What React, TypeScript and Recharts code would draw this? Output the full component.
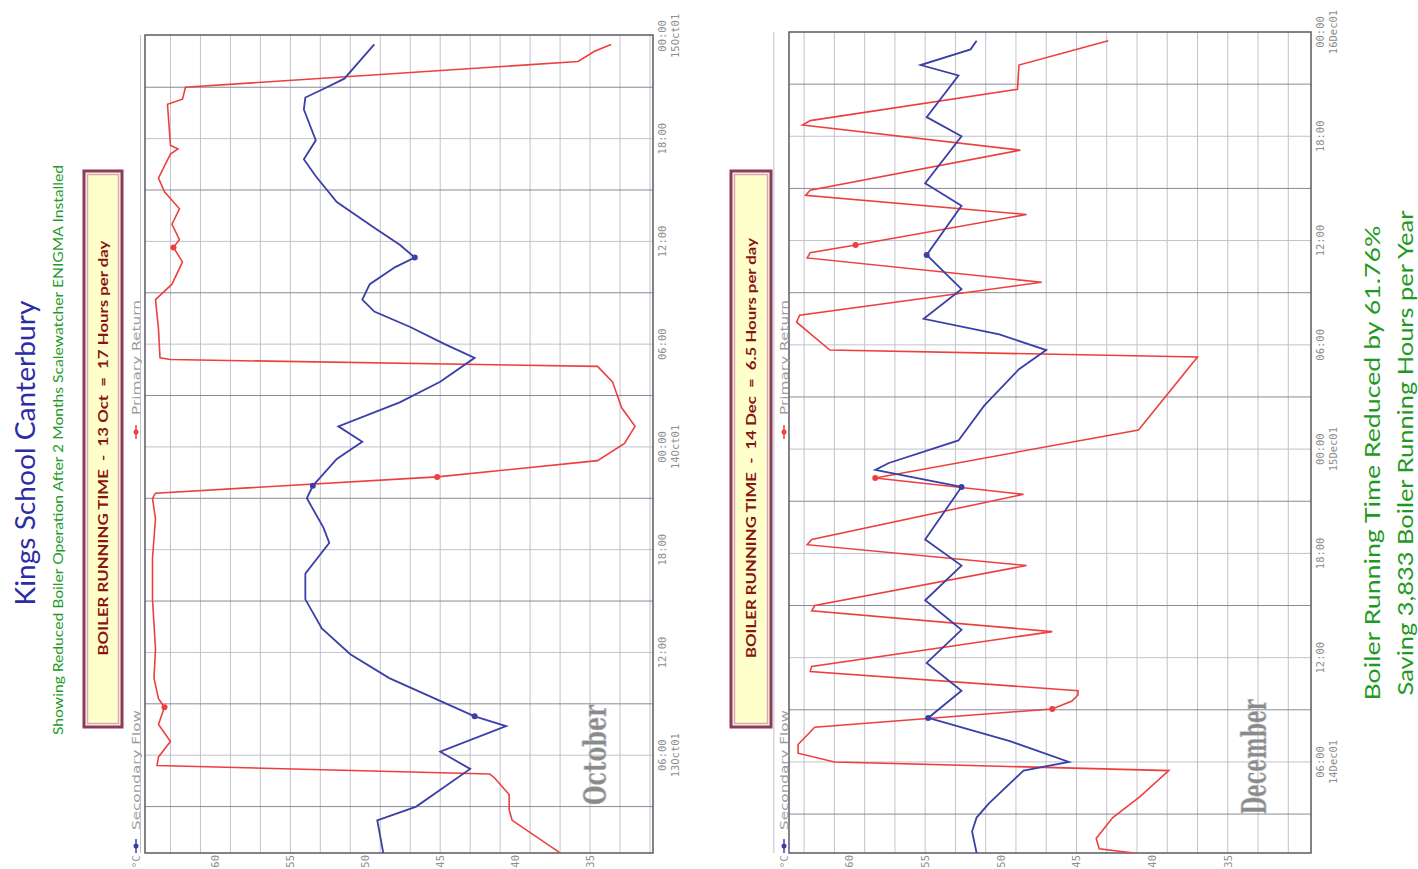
import React from "react";
import { CartesianGrid, Line, LineChart, ReferenceArea, XAxis, YAxis } from "recharts";

// hours counted from 00:00 of the first day shown
const octReturnHours = [0.3, 2.2, 2.8, 3.7, 4.7, 4.9, 5.4, 5.9, 6.8, 7.8, 8.8, 9.3, 10.5, 12.2, 15.1, 17.5, 19.8, 21.0, 21.3, 22.25, 23.2, 24.2, 25.2, 26.3, 27.8, 28.7, 29.1, 29.2, 30.9, 32.6, 33.5, 34.8, 35.65, 36.1, 37.0, 37.9, 38.9, 39.7, 41.1, 41.4, 41.6, 44.0, 44.3, 45.0, 46.5, 47.1, 47.5];
const octReturnTemp = [37.0, 40.2, 40.4, 40.4, 41.4, 41.7, 63.9, 63.8, 63.0, 63.8, 63.4, 63.8, 64.1, 64.0, 64.2, 64.2, 64.0, 64.2, 64.0, 45.2, 34.5, 32.7, 32.0, 32.9, 33.5, 34.5, 63.0, 63.7, 63.8, 64.0, 62.9, 62.2, 62.8, 62.4, 62.9, 62.4, 63.4, 63.8, 63.0, 62.5, 63.0, 63.2, 62.2, 62.0, 35.8, 34.7, 33.6];
const octFlowHours = [0.3, 2.2, 3.0, 5.2, 6.2, 7.7, 8.27, 10.5, 11.9, 13.4, 15.1, 16.6, 17.5, 18.4, 19.3, 21.0, 21.73, 23.3, 24.3, 25.2, 26.6, 27.8, 29.2, 30.0, 31.0, 31.9, 32.6, 33.5, 34.5, 35.06, 35.8, 36.8, 38.3, 39.8, 40.8, 41.9, 43.7, 44.4, 44.9, 45.5, 47.5];
const octFlowTemp = [48.8, 49.2, 46.6, 43.0, 45.0, 40.6, 42.7, 48.4, 51.0, 52.9, 54.0, 54.0, 53.2, 52.4, 52.8, 53.9, 53.5, 51.9, 50.2, 51.8, 47.7, 45.0, 42.7, 44.7, 47.0, 49.4, 50.2, 49.7, 48.0, 46.7, 47.7, 49.4, 51.9, 53.3, 54.1, 53.3, 54.1, 54.0, 52.8, 51.4, 49.4];

const decReturnHours = [0.76, 1.0, 1.6, 2.8, 4.0, 5.5, 6.0, 6.5, 7.0, 8.0, 9.05, 9.5, 9.85, 10.1, 11.2, 11.5, 13.5, 14.7, 15.0, 17.3, 18.5, 18.8, 21.4, 22.34, 25.1, 29.3, 29.7, 31.3, 31.7, 33.6, 35.0, 35.3, 35.74, 37.5, 38.6, 38.9, 41.2, 42.65, 42.9, 44.7, 46.1, 47.5];
const decReturnTemp = [41.2, 43.5, 43.7, 42.6, 40.8, 38.9, 61.0, 63.4, 63.4, 62.3, 46.6, 45.3, 44.9, 44.9, 62.6, 62.5, 46.6, 62.5, 62.3, 48.3, 62.8, 62.5, 48.5, 58.3, 40.9, 37.0, 61.3, 63.5, 63.3, 47.3, 62.8, 62.6, 59.6, 48.3, 62.9, 62.6, 48.7, 63.1, 62.6, 48.9, 48.8, 42.9];
const decFlowHours = [0.76, 2.0, 2.8, 3.6, 5.5, 6.0, 7.2, 8.53, 10.1, 11.7, 13.6, 15.3, 17.3, 18.8, 21.82, 22.8, 23.2, 24.5, 26.5, 28.6, 29.7, 30.6, 31.5, 33.2, 35.17, 38.0, 39.3, 42.0, 43.1, 45.5, 46.1, 47.0, 47.5];
const decFlowTemp = [51.6, 51.9, 51.6, 50.8, 48.5, 45.5, 49.4, 54.8, 52.6, 54.9, 52.6, 55.0, 52.6, 55.0, 52.6, 58.3, 57.4, 52.8, 51.1, 48.8, 47.0, 50.1, 55.1, 52.6, 54.9, 52.6, 55.0, 52.6, 54.9, 52.8, 55.3, 52.0, 51.6];

const octReturnMarks = [8.8, 22.25, 35.65];
const octFlowMarks = [8.27, 21.73, 35.06];
const decReturnMarks = [9.05, 22.34, 35.74];
const decFlowMarks = [8.53, 21.82, 35.17];

const tempTicks = [35, 40, 45, 50, 55, 60];
const tempGrid = Array.from({ length: 36 }, (_, i) => 30 + i);
const hourTicks = [6, 12, 18, 24, 30, 36, 42, 48];
const hourLabels = ["06:00", "12:00", "18:00", "00:00", "06:00", "12:00", "18:00", "00:00"];
const octDates = ["13Oct01", "", "", "14Oct01", "", "", "", "15Oct01"];
const decDates = ["14Dec01", "", "", "15Dec01", "", "", "", "16Dec01"];
const lightHours = [6, 12, 18, 24, 30, 36, 42];
const darkHours = [3, 9, 15, 21, 27, 33, 39, 45];

const RED = "#ee3f3f";
const BLUE = "#3b3fa6";
const TICK = "#8e8e8e";
const MONO = "'DejaVu Sans Mono', monospace";
const COMIC = "'Comic Sans MS', Lato, sans-serif";

const zip = (hours: number[], temps: number[]) => hours.map((t, i) => ({ t, v: temps[i] }));

const markDot = (marks: number[], color: string) => (p: any) =>
  marks.includes(p.payload.t) ? (
    <circle key={p.index} cx={p.cx} cy={p.cy} r={3} fill={color} stroke="none" />
  ) : (
    <g key={p.index} />
  );

function TimeTick(props: any) {
  const { x, y, payload, dates } = props;
  const i = hourTicks.indexOf(payload.value);
  return (
    <text x={x} y={y} textAnchor="middle" fill={TICK} fontSize={10.5} fontFamily={MONO}>
      <tspan x={x} dy={5}>{hourLabels[i]}</tspan>
      {dates[i] ? <tspan x={x} dy={13}>{dates[i]}</tspan> : null}
    </text>
  );
}

function DayChart(props: any) {
  const { top, height, right, domainT, domainV, ret, flow, retMarks, flowMarks, dates } = props;
  return (
    <div style={{ position: "absolute", left: 0, top }}>
      <LineChart width={869} height={height} margin={{ top: 45, right, bottom: 12, left: 0 }}>
        <CartesianGrid horizontalValues={tempGrid} verticalValues={lightHours} stroke="#c2c2cc" strokeWidth={1} />
        <CartesianGrid horizontal={false} verticalValues={darkHours} stroke="#8a8a98" strokeWidth={1} />
        <XAxis
          type="number"
          dataKey="t"
          domain={domainT}
          ticks={hourTicks}
          allowDataOverflow
          height={35}
          tickLine={false}
          axisLine={false}
          tick={<TimeTick dates={dates} />}
        />
        <YAxis
          type="number"
          domain={domainV}
          ticks={tempTicks}
          allowDataOverflow
          width={16}
          tickSize={0}
          tickMargin={2}
          axisLine={false}
          tick={{ fill: TICK, fontSize: 10.5, fontFamily: MONO }}
        />
        <ReferenceArea x1={domainT[0]} x2={domainT[1]} y1={domainV[0]} y2={domainV[1]} fill="none" stroke="#5a5a62" strokeWidth={1.5} />
        <Line data={ret} dataKey="v" stroke={RED} strokeWidth={1.6} dot={markDot(retMarks, RED)} activeDot={false} isAnimationActive={false} />
        <Line data={flow} dataKey="v" stroke={BLUE} strokeWidth={1.8} dot={markDot(flowMarks, BLUE)} activeDot={false} isAnimationActive={false} />
      </LineChart>
    </div>
  );
}

function Legend({ v }: { v: number }) {
  return (
    <g fontFamily="'DejaVu Sans', sans-serif" fontSize={11} fill="#9c9c9c">
      <line x1={16} x2={30} y1={v} y2={v} stroke={BLUE} strokeWidth={1.5} />
      <circle cx={23} cy={v} r={2.5} fill={BLUE} />
      <text x={39} y={v + 4} textLength={120} lengthAdjust="spacingAndGlyphs">Secondary Flow</text>
      <line x1={430} x2={444} y1={v} y2={v} stroke={RED} strokeWidth={1.5} />
      <circle cx={437} cy={v} r={2.5} fill={RED} />
      <text x={454} y={v + 4} textLength={115} lengthAdjust="spacingAndGlyphs">Primary Return</text>
      <text x={14} y={v + 4} textAnchor="end" fontFamily={MONO}>°C</text>
    </g>
  );
}

function Box({ v, h, text, len }: { v: number; h: number; text: string; len: number }) {
  return (
    <g>
      <rect x={142} y={v} width={556} height={h} fill="#ffffcc" stroke="#8c3a60" strokeWidth={3} />
      <rect x={145.5} y={v + 3.5} width={549} height={h - 7} fill="none" stroke="#d8a6bf" strokeWidth={1.5} />
      <text x={421} y={v + h / 2 + 5} textAnchor="middle" fontFamily={COMIC} fontWeight="bold" fontSize={13} fill="#8a1414" textLength={len} lengthAdjust="spacingAndGlyphs" style={{ whiteSpace: "pre" }}>
        {text}
      </text>
    </g>
  );
}

export default function App() {
  return (
    <div style={{ position: "absolute", left: 0, top: 0, width: 1418, height: 869, overflow: "hidden", background: "#fff" }}>
      <div style={{ position: "absolute", left: 0, top: 0, width: 869, height: 1418, transformOrigin: "0 0", transform: "translate(0px, 869px) rotate(-90deg)" }}>
        <DayChart
          top={100}
          height={600}
          right={35}
          domainT={[0.29, 48.05]}
          domainV={[30.8, 64.7]}
          ret={zip(octReturnHours, octReturnTemp)}
          flow={zip(octFlowHours, octFlowTemp)}
          retMarks={octReturnMarks}
          flowMarks={octFlowMarks}
          dates={octDates}
        />
        <DayChart
          top={744}
          height={614}
          right={32}
          domainT={[0.76, 48]}
          domainV={[29.5, 64.0]}
          ret={zip(decReturnHours, decReturnTemp)}
          flow={zip(decFlowHours, decFlowTemp)}
          retMarks={decReturnMarks}
          flowMarks={decFlowMarks}
          dates={decDates}
        />
        <svg width={869} height={1418} style={{ position: "absolute", left: 0, top: 0, pointerEvents: "none" }}>
          <text x={416} y={35} textAnchor="middle" fontFamily={COMIC} fontSize={27} fill="#2c2ca6" textLength={305} lengthAdjust="spacingAndGlyphs">
            Kings School Canterbury
          </text>
          <text x={419} y={63} textAnchor="middle" fontFamily={COMIC} fontSize={13} fill="#1f9a2a" textLength={570} lengthAdjust="spacingAndGlyphs">
            Showing Reduced Boiler Operation After 2 Months Scalewatcher ENIGMA Installed
          </text>
          <Box v={84} h={38} text="BOILER RUNNING TIME  -  13 Oct  =  17 Hours per day" len={415} />
          <Box v={731} h={40} text="BOILER RUNNING TIME  -  14 Dec  =  6.5 Hours per day" len={420} />
          <Legend v={136} />
          <Legend v={784} />
          <text x={114} y={606} textAnchor="middle" fontFamily="'DejaVu Serif', serif" fontWeight="bold" fontSize={32} fill="#8a8a8a" stroke="#c8c8c8" strokeWidth={0.6} textLength={100} lengthAdjust="spacingAndGlyphs">
            October
          </text>
          <text x={112} y={1266} textAnchor="middle" fontFamily="'DejaVu Serif', serif" fontWeight="bold" fontSize={34} fill="#8a8a8a" stroke="#c8c8c8" strokeWidth={0.6} textLength={115} lengthAdjust="spacingAndGlyphs">
            December
          </text>
          <text x={406} y={1380} textAnchor="middle" fontFamily={COMIC} fontSize={22} fill="#1e9a22" textLength={475} lengthAdjust="spacingAndGlyphs">
            Boiler Running Time Reduced by 61.76%
          </text>
          <text x={416} y={1413} textAnchor="middle" fontFamily={COMIC} fontSize={22} fill="#1e9a22" textLength={485} lengthAdjust="spacingAndGlyphs">
            Saving 3,833 Boiler Running Hours per Year
          </text>
        </svg>
      </div>
    </div>
  );
}
